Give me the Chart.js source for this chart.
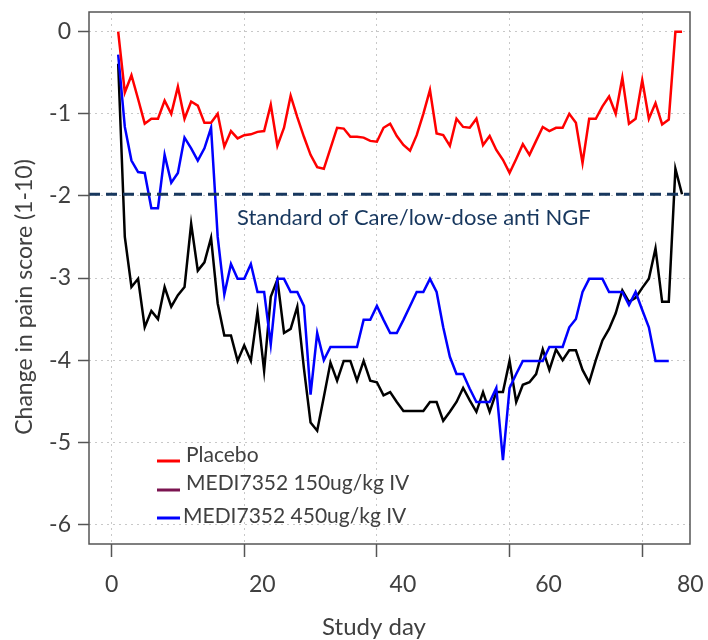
<!doctype html>
<html lang="en">
<head>
<meta charset="utf-8">
<title>Change in pain score by study day</title>
<style>
  * { margin: 0; padding: 0; }
  body { background: #fff; }
  canvas { display: block; }
</style>
</head>
<body>
<canvas id="painChart" width="708" height="640"></canvas>
<script src="https://cdn.jsdelivr.net/npm/chart.js"></script>
<script>
// data
const days = [1,2,3,4,5,6,7,8,9,10,11,12,13,14,15,16,17,18,19,20,21,22,23,24,25,26,27,28,29,30,
  31,32,33,34,35,36,37,38,39,40,41,42,43,44,45,46,47,48,49,50,51,52,53,54,55,56,57,58,59,60,
  61,62,63,64,65,66,67,68,69,70,71,72,73,74,75,76,77,78,79,80,81,82,83,84,85,86];

const placebo = [0,-0.74,-0.53,-0.82,-1.12,-1.06,-1.06,-0.84,-1.0,-0.67,
  -1.06,-0.85,-0.9,-1.11,-1.11,-1.0,-1.40,-1.21,-1.30,-1.26,
  -1.25,-1.22,-1.21,-0.89,-1.39,-1.17,-0.78,-1.04,-1.28,-1.50,
  -1.65,-1.67,-1.42,-1.17,-1.18,-1.28,-1.28,-1.29,-1.33,-1.34,
  -1.17,-1.12,-1.27,-1.38,-1.45,-1.26,-1.0,-0.71,-1.24,-1.26,
  -1.39,-1.06,-1.16,-1.17,-1.06,-1.38,-1.27,-1.44,-1.56,-1.72,
  -1.55,-1.37,-1.50,-1.33,-1.16,-1.21,-1.17,-1.17,-1.0,-1.11,
  -1.60,-1.06,-1.06,-0.91,-0.79,-1.0,-0.56,-1.12,-1.06,-0.59,
  -1.06,-0.87,-1.13,-1.07,0,0];

const dose150 = [-0.39,-2.5,-3.11,-3.01,-3.60,-3.40,-3.50,-3.11,-3.35,-3.21,
  -3.11,-2.34,-2.91,-2.81,-2.51,-3.31,-3.70,-3.70,-4.01,-3.82,
  -4.01,-3.41,-4.13,-3.23,-3.02,-3.67,-3.62,-3.35,-4.10,-4.76,
  -4.86,-4.45,-4.03,-4.25,-4.01,-4.01,-4.25,-4.01,-4.25,-4.27,
  -4.43,-4.39,-4.51,-4.62,-4.62,-4.62,-4.62,-4.51,-4.51,-4.74,
  -4.63,-4.51,-4.34,-4.49,-4.63,-4.39,-4.63,-4.39,-4.39,-4.01,
  -4.51,-4.30,-4.27,-4.17,-3.87,-4.12,-3.87,-4.0,-3.88,-3.88,
  -4.12,-4.27,-4.0,-3.76,-3.62,-3.43,-3.15,-3.29,-3.24,-3.12,
  -3.01,-2.64,-3.29,-3.29,-1.67,-1.98];

const dose450 = [-0.28,-1.16,-1.57,-1.71,-1.72,-2.15,-2.15,-1.50,-1.84,-1.72,
  -1.29,-1.42,-1.57,-1.42,-1.17,-2.50,-3.20,-2.83,-3.01,-3.01,
  -2.83,-3.17,-3.17,-3.81,-3.01,-3.01,-3.17,-3.17,-3.34,-4.42,
  -3.67,-4.0,-3.84,-3.84,-3.84,-3.84,-3.84,-3.51,-3.51,-3.34,
  -3.51,-3.67,-3.67,-3.51,-3.34,-3.17,-3.17,-3.01,-3.17,-3.60,
  -3.96,-4.17,-4.17,-4.35,-4.51,-4.51,-4.51,-4.34,-5.22,-4.34,
  -4.17,-4.01,-4.01,-4.01,-4.01,-3.84,-3.84,-3.84,-3.60,-3.50,
  -3.17,-3.01,-3.01,-3.01,-3.17,-3.17,-3.17,-3.33,-3.17,-3.39,
  -3.60,-4.01,-4.01,-4.01];

const xTicks = [0, 20, 40, 60, 80];
const yTicks = [0, -1, -2, -3, -4, -5, -6];
const xMin = -3.4, xMax = 87.2;
const yMin = -6.24, yMax = 0.24;

const socLevel = -1.98;
const socLabel = 'Standard of Care/low-dose anti NGF';
const legendLabels = ['Placebo', 'MEDI7352 150ug/kg IV', 'MEDI7352 450ug/kg IV'];
const legendColors = ['#ff0000', '#7b1450', '#0000ff'];

const FONT = 'Lato, "Open Sans", sans-serif';
const TEXT = '#404040';

function pts(vals) {
  return vals.map((v, i) => ({x: days[i], y: v}));
}

// hand drawn bits: frame, shifted x labels, axis titles, legend, SOC label
const extras = {
  id: 'extras',
  afterDraw(chart) {
    const {ctx, chartArea: a, scales: {x, y}} = chart;
    ctx.save();
    ctx.strokeStyle = '#555';
    ctx.lineWidth = 1.5;
    ctx.strokeRect(a.left, a.top, a.right - a.left, a.bottom - a.top);

    ctx.fillStyle = TEXT;
    ctx.font = '23px ' + FONT;
    ctx.textAlign = 'center';
    ctx.textBaseline = 'middle';
    const shift = [0, 18, 26, 39, 48];
    xTicks.forEach((v, i) => {
      ctx.fillText(String(v), x.getPixelForValue(v) + shift[i], 585);
    });
    ctx.font = '24px ' + FONT;
    ctx.fillText('Study day', 374, 627);

    ctx.save();
    ctx.translate(25, 297);
    ctx.rotate(-Math.PI / 2);
    ctx.font = '23px ' + FONT;
    ctx.fillText('Change in pain score (1-10)', 0, 0);
    ctx.restore();

    // SOC label under dashed line
    ctx.fillStyle = '#17375e';
    ctx.font = '22px ' + FONT;
    ctx.textAlign = 'left';
    ctx.fillText(socLabel, 237, y.getPixelForValue(socLevel) + 24);

    // legend
    const rows = [{ly: 461, ty: 455, tx: 186}, {ly: 490, ty: 483, tx: 186}, {ly: 518, ty: 516, tx: 183}];
    ctx.font = '21px ' + FONT;
    legendLabels.forEach((lab, i) => {
      const r = rows[i];
      ctx.strokeStyle = legendColors[i];
      ctx.lineWidth = 3;
      ctx.beginPath();
      ctx.moveTo(157, r.ly);
      ctx.lineTo(180, r.ly);
      ctx.stroke();
      ctx.fillStyle = TEXT;
      ctx.fillText(lab, r.tx, r.ty);
    });
    ctx.restore();
  }
};

const lineStyle = {borderWidth: 2.5, pointRadius: 0, tension: 0, fill: false};

new Chart(document.getElementById('painChart'), {
  type: 'line',
  data: {
    datasets: [
      {label: 'SOC', data: [{x: xMin, y: socLevel}, {x: xMax, y: socLevel}],
        borderColor: '#17375e', borderWidth: 3, borderDash: [11, 6], pointRadius: 0},
      {label: legendLabels[0], data: pts(placebo), borderColor: '#ff0000', ...lineStyle},
      {label: legendLabels[2], data: pts(dose450), borderColor: '#0000ff', ...lineStyle},
      {label: legendLabels[1], data: pts(dose150), borderColor: '#000000', ...lineStyle}
    ]
  },
  options: {
    responsive: false,
    animation: false,
    layout: {padding: {top: 12, right: 18, left: 0, bottom: 0}},
    plugins: {legend: {display: false}, tooltip: {enabled: false}},
    scales: {
      x: {
        type: 'linear',
        min: xMin,
        max: xMax,
        afterBuildTicks: s => { s.ticks = xTicks.map(v => ({value: v})); },
        afterFit: s => { s.height = 96; s.paddingLeft = 0; s.paddingRight = 0; },
        ticks: {display: false},
        grid: {color: '#c8c8c8', lineWidth: 1, tickLength: 13, tickColor: '#555', tickWidth: 1.5},
        border: {display: false, dash: [2, 4]}
      },
      y: {
        min: yMin,
        max: yMax,
        afterBuildTicks: s => { s.ticks = yTicks.map(v => ({value: v})); },
        afterFit: s => { s.width = 89; s.paddingTop = 0; s.paddingBottom = 0; },
        ticks: {color: TEXT, font: {family: FONT, size: 23}, padding: 7},
        grid: {color: '#c8c8c8', lineWidth: 1, tickLength: 11, tickColor: '#555', tickWidth: 1.5},
        border: {display: false, dash: [2, 4]}
      }
    }
  },
  plugins: [extras]
});
</script>
</body>
</html>
